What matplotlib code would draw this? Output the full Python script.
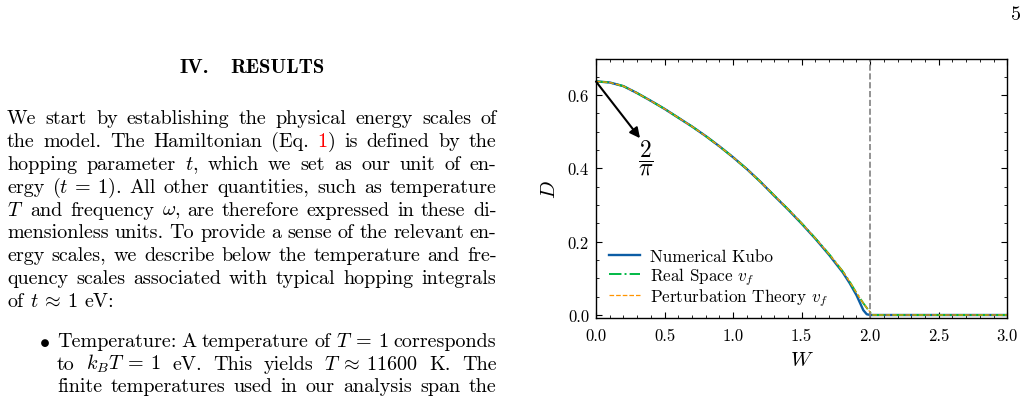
import matplotlib
matplotlib.use('Agg')
import matplotlib.pyplot as plt
import numpy as np
from matplotlib.ticker import MultipleLocator

plt.rcParams['font.family'] = ['cmr10']
plt.rcParams['mathtext.fontset'] = 'cm'
plt.rcParams['axes.formatter.use_mathtext'] = True

FIG_W, FIG_H = 1029, 402
BODY_FS = 14.5

# data
w_kubo = [0.0, 0.1, 0.2, 0.3, 0.4, 0.5, 0.6, 0.7, 0.8, 0.9, 1.0, 1.1, 1.2, 1.3,
          1.4, 1.5, 1.6, 1.7, 1.8, 1.85, 1.9, 1.95, 1.975, 2.0, 2.5, 3.0]
d_kubo = [0.637, 0.634, 0.624, 0.605, 0.584, 0.562, 0.538, 0.514, 0.488, 0.460,
          0.430, 0.398, 0.363, 0.325, 0.288, 0.249, 0.208, 0.164, 0.116, 0.087,
          0.054, 0.013, 0.002, 0.0, 0.0, 0.0]
w_vf = [0.0, 0.1, 0.2, 0.3, 0.4, 0.5, 0.6, 0.7, 0.8, 0.9, 1.0, 1.1, 1.2, 1.3,
        1.4, 1.5, 1.6, 1.7, 1.8, 1.85, 1.9, 1.95, 1.99, 2.0, 2.005, 2.5, 3.0]
d_real = [0.637, 0.634, 0.624, 0.605, 0.584, 0.562, 0.538, 0.514, 0.488, 0.460,
          0.430, 0.398, 0.363, 0.326, 0.289, 0.250, 0.209, 0.166, 0.119, 0.091,
          0.060, 0.032, 0.012, 0.008, 0.0, 0.0, 0.0]
d_pert = [0.637, 0.634, 0.624, 0.605, 0.584, 0.562, 0.538, 0.514, 0.488, 0.460,
          0.430, 0.398, 0.363, 0.326, 0.289, 0.250, 0.209, 0.166, 0.119, 0.091,
          0.060, 0.032, 0.012, 0.008, 0.0, 0.0, 0.0]
labels = ['Numerical Kubo', 'Real Space $v_f$', 'Perturbation Theory $v_f$']
w_crit = 2.0

# page text
body = [
    "We start by establishing the physical energy scales of",
    "the model.  The Hamiltonian (Eq. 1) is defined by the",
    "hopping parameter $t$, which we set as our unit of en-",
    "ergy ($t\\:=\\:1$).  All other quantities, such as temperature",
    "$T$ and frequency $\\omega$, are therefore expressed in these di-",
    "mensionless units. To provide a sense of the relevant en-",
    "ergy scales, we describe below the temperature and fre-",
    "quency scales associated with typical hopping integrals",
    "of $t\\:\\approx\\:1$ eV:",
]
bullet = [
    "Temperature: A temperature of $T\\:=\\:1$ corresponds",
    "to $k_BT\\:=\\:1$ eV.  This yields $T\\:\\approx\\:11600$ K.  The",
    "finite temperatures used in our analysis span the",
]
SPLIT = {"1)": [("1", "red"), (")", "black")]}

fig = plt.figure(figsize=(FIG_W / 100, FIG_H / 100), dpi=100)
renderer = fig.canvas.get_renderer()


def fx(x):
    return x / FIG_W


def fy(y):
    return 1 - y / FIG_H


def draw_line(line, x0, x1, y, justify=True):
    pieces = []
    for tok in line.split():
        segs = SPLIT.get(tok, [(tok, 'black')])
        objs = [fig.text(0, 0, s, color=c, fontsize=BODY_FS, ha='left', va='baseline')
                for s, c in segs]
        ws = [o.get_window_extent(renderer).width for o in objs]
        pieces.append((objs, ws))
    total = sum(sum(ws) for _, ws in pieces)
    if justify and len(pieces) > 1:
        gap = (x1 - x0 - total) / (len(pieces) - 1)
    else:
        gap = 6.6
    x = x0
    for objs, ws in pieces:
        for o, w in zip(objs, ws):
            o.set_position((fx(x), fy(y)))
            x += w
        x += gap


fig.text(fx(1021), fy(20), '5', fontsize=BODY_FS, ha='right', va='baseline')
fig.text(fx(179), fy(72.7), 'IV.', fontsize=14.8, family='cmb10', va='baseline')
fig.text(fx(230), fy(72.7), 'RESULTS', fontsize=14.8, family='cmb10', va='baseline')

for i, line in enumerate(body):
    draw_line(line, 7, 496.5, 124 + 22.9 * i, justify=(i < len(body) - 1))
fig.text(fx(39), fy(346.7), '$\\bullet$', fontsize=BODY_FS, va='baseline')
for i, line in enumerate(bullet):
    draw_line(line, 57, 496.5, 346.7 + 22.9 * i)

# chart
ax = fig.add_axes([fx(596), fy(319.3), 411.3 / FIG_W, 259.3 / FIG_H])
l1, = ax.plot(w_kubo, d_kubo, color='#0C5DA5', lw=1.7)
l2, = ax.plot(w_vf, d_real, color='#00B945', lw=1.4, ls='-.')
l3, = ax.plot(w_vf, d_pert, color='#FF9500', lw=0.9, ls='--')
ax.axvline(w_crit, color='gray', ls='--', lw=1.2)

ax.annotate('', xy=(0.321, 0.482), xytext=(0, 2 / np.pi),
            arrowprops=dict(arrowstyle='-|>', color='k', lw=1.5,
                            mutation_scale=15, shrinkA=0, shrinkB=0))
ax.text(0.365, 0.43, r'$\dfrac{2}{\pi}$', fontsize=17, ha='center', va='center')

ax.set_xlim(0, 3)
ax.set_ylim(-0.009, 0.698)
ax.xaxis.set_major_locator(MultipleLocator(0.5))
ax.xaxis.set_minor_locator(MultipleLocator(0.1))
ax.yaxis.set_major_locator(MultipleLocator(0.2))
ax.yaxis.set_minor_locator(MultipleLocator(0.05))
ax.xaxis.set_major_formatter(plt.FormatStrFormatter('%.1f'))
ax.yaxis.set_major_formatter(plt.FormatStrFormatter('%.1f'))
ax.tick_params(which='both', direction='in', top=True, right=True, labelsize=12)
ax.tick_params(which='major', length=4, width=0.8, pad=5)
ax.tick_params(axis='x', which='major', pad=6.5)
ax.tick_params(which='minor', length=2, width=0.6)
for s in ax.spines.values():
    s.set_linewidth(1.0)

ax.set_xlabel('$W$', fontsize=15)
ax.set_ylabel('$D$', fontsize=15)
ax.xaxis.set_label_coords(0.5, -0.125)
ax.yaxis.set_label_coords(-0.09, 0.5)

# one legend per row so the rows keep an even pitch
row_y = [0.240, 0.161, 0.082]
for k, (h, lab, yy) in enumerate(zip([l1, l2, l3], labels, row_y)):
    leg = ax.legend([h], [lab], loc='center left', bbox_to_anchor=(0.032, yy),
                    frameon=False, fontsize=12.3, handlelength=1.8,
                    handletextpad=0.6, borderpad=0, borderaxespad=0)
    if k < len(labels) - 1:
        ax.add_artist(leg)

fig.savefig('out.png', dpi=100)
